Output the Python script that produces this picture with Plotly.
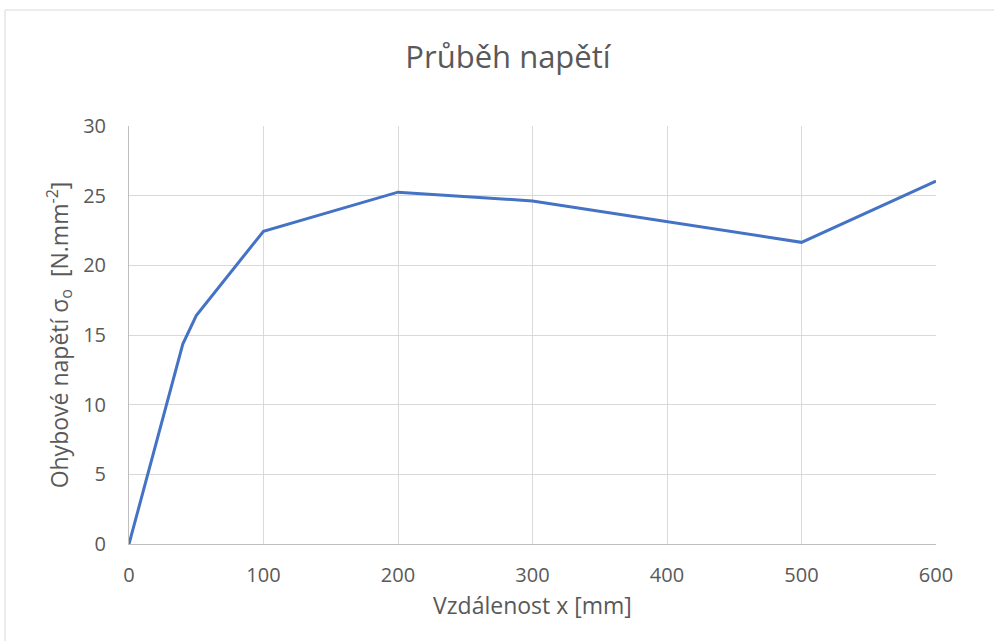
import plotly.graph_objects as go

# Bending stress along the beam
distance_mm = [0, 40, 50, 100, 200, 300, 500, 600]
stress_mpa = [0, 14.35, 16.4, 22.45, 25.25, 24.62, 21.65, 26.05]

x_ticks = [0, 100, 200, 300, 400, 500, 600]
y_ticks = [0, 5, 10, 15, 20, 25, 30]

FONT = "Open Sans, sans-serif"
TEXT = "#595959"

# plot area in pixels
L, R, T, B = 129, 58, 126, 97
PW, PH = 994 - L - R, 641 - T - B

fig = go.Figure()
fig.add_trace(go.Scatter(
    x=distance_mm, y=stress_mpa, mode="lines",
    line=dict(color="#4472C4", width=3), showlegend=False,
))

fig.update_layout(
    width=994, height=641,
    margin=dict(l=L, r=R, t=T, b=B),
    paper_bgcolor="white", plot_bgcolor="white",
    font=dict(family=FONT, color=TEXT),
    title=dict(text="Průběh napětí", x=508 / 994, xanchor="center",
               y=1 - 57 / 641, yanchor="middle", font=dict(size=31, color=TEXT)),
    xaxis=dict(
        range=[0, 600], tickvals=x_ticks, ticktext=[str(v) for v in x_ticks],
        showgrid=True, gridcolor="#d9d9d9", gridwidth=1,
        showline=True, linecolor="#bfbfbf", linewidth=1,
        zeroline=False, ticks="", tickfont=dict(size=20, color=TEXT),
        ticklabelstandoff=13,
        title=dict(text="Vzdálenost x [mm]", font=dict(size=23, color=TEXT), standoff=10),
    ),
    yaxis=dict(
        range=[0, 30], tickvals=y_ticks, ticktext=[str(v) for v in y_ticks],
        showgrid=True, gridcolor="#d9d9d9", gridwidth=1,
        showline=True, linecolor="#bfbfbf", linewidth=1,
        zeroline=False, ticks="", tickfont=dict(size=20, color=TEXT),
        ticklabelstandoff=18,
        title=dict(text="Ohybové napětí σ<sub>o</sub>  [N.mm<sup>-2</sup>]",
                   font=dict(size=23, color=TEXT), standoff=8),
    ),
    shapes=[dict(type="rect", xref="paper", yref="paper",
                 x0=(5 - L) / PW, x1=(999 - L) / PW,
                 y0=-(646 - T - PH) / PH, y1=1 + (T - 10) / PH,
                 line=dict(color="#d9d9d9", width=1), fillcolor="rgba(0,0,0,0)",
                 layer="below")],
)

fig.write_html("out.html")
